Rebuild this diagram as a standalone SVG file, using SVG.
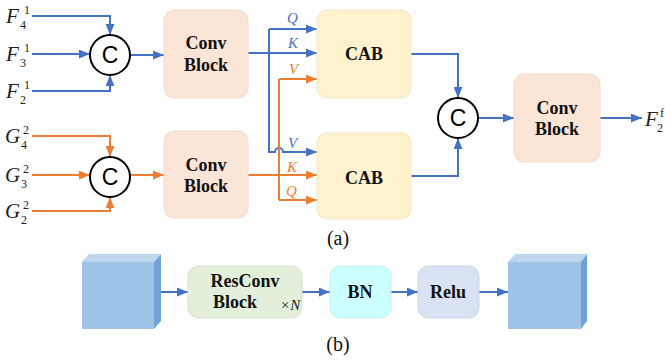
<svg xmlns="http://www.w3.org/2000/svg" width="665" height="360" viewBox="0 0 665 360">
<style>
.b{stroke:#4472C4;stroke-width:2;fill:none}
.o{stroke:#ED7D31;stroke-width:2;fill:none}
.ab{marker-end:url(#mb)}
.ao{marker-end:url(#mo)}
.conv{fill:#FBE5D6;stroke:#F2DCCB;stroke-width:1}
.cab{fill:#FFF2CC;stroke:#F0E6C6;stroke-width:1}
.cat{fill:#fff;stroke:#000;stroke-width:2}
.ct{font-family:"Liberation Sans",Arial,sans-serif;font-size:23px;text-anchor:middle}
.bt{font-family:"Liberation Serif","Times New Roman",serif;font-weight:bold;font-size:18px;text-anchor:middle;fill:#111}
.it{font-family:"Liberation Serif","Times New Roman",serif;font-style:italic;font-size:21px;fill:#222}
.sm{font-family:"Liberation Serif","Times New Roman",serif;font-size:12px;fill:#222}
.lb{font-family:"Liberation Serif","Times New Roman",serif;font-style:italic;font-size:15px}
.cap{font-family:"Liberation Serif","Times New Roman",serif;font-size:20px;text-anchor:middle;fill:#111}
</style>
<defs>
<marker id="mb" viewBox="0 0 10 8" refX="10" refY="4" markerWidth="11" markerHeight="9" markerUnits="userSpaceOnUse" orient="auto"><path d="M0,0 L10,4 L0,8 z" fill="#4472C4"/></marker>
<marker id="mo" viewBox="0 0 10 8" refX="10" refY="4" markerWidth="11" markerHeight="9" markerUnits="userSpaceOnUse" orient="auto"><path d="M0,0 L10,4 L0,8 z" fill="#ED7D31"/></marker>
</defs>

<g id="connectors">
<path class="b ab" d="M32,16 H110 V35"/>
<path class="b ab" d="M32,54 H90"/>
<path class="b ab" d="M32,91 H110 V75"/>
<path class="b ab" d="M130,55 H164"/>
<path class="o ao" d="M32,136 H110 V157"/>
<path class="o ao" d="M32,175 H90"/>
<path class="o ao" d="M32,211 H110 V197"/>
<path class="o ao" d="M130,175 H164"/>
<path class="b ab" d="M248,53 H317"/>
<path class="b ab" d="M269,29 H317"/>
<path class="b ab" d="M269,29 V152 H275 a4,4 0 0 1 8,0 H317"/>
<path class="o ao" d="M279,79 H317"/>
<path class="o" d="M279,79 V200"/>
<path class="o ao" d="M248,175 H317"/>
<path class="o ao" d="M279,200 H317"/>
<path class="b ab" d="M411,54 H458 V98"/>
<path class="b ab" d="M411,176 H458 V138"/>
<path class="b ab" d="M478,118 H514"/>
<path class="b ab" d="M600,118 H642"/>
<path class="b ab" d="M161,292 H188"/>
<path class="b ab" d="M302,292 H330"/>
<path class="b ab" d="M391,292 H418"/>
<path class="b ab" d="M479,292 H508"/>
</g>

<g id="labels-in">
<text class="it" x="6" y="23">F</text><text class="sm" x="24" y="14">1</text><text class="sm" x="20" y="29">4</text>
<text class="it" x="6" y="61">F</text><text class="sm" x="24" y="52">1</text><text class="sm" x="20" y="67">3</text>
<text class="it" x="6" y="98">F</text><text class="sm" x="24" y="89">1</text><text class="sm" x="20" y="104">2</text>
<text class="it" x="5" y="143">G</text><text class="sm" x="23" y="134">2</text><text class="sm" x="21" y="149">4</text>
<text class="it" x="5" y="182">G</text><text class="sm" x="23" y="173">2</text><text class="sm" x="21" y="188">3</text>
<text class="it" x="5" y="218">G</text><text class="sm" x="23" y="209">2</text><text class="sm" x="21" y="224">2</text>
</g>

<g id="cat1"><circle class="cat" cx="110" cy="55" r="20"/><text class="ct" x="110" y="63">C</text></g>
<g id="cat2"><circle class="cat" cx="110" cy="177" r="20"/><text class="ct" x="110" y="185">C</text></g>
<g id="cat3"><circle class="cat" cx="458" cy="118" r="20"/><text class="ct" x="458" y="126">C</text></g>

<g id="conv1"><rect class="conv" x="164" y="10" width="84" height="88" rx="10"/><text class="bt" x="206" y="49">Conv</text><text class="bt" x="206" y="71">Block</text></g>
<g id="conv2"><rect class="conv" x="164" y="131" width="84" height="87" rx="10"/><text class="bt" x="206" y="171">Conv</text><text class="bt" x="206" y="192">Block</text></g>
<g id="conv3"><rect class="conv" x="514" y="74" width="86" height="88" rx="10"/><text class="bt" x="557" y="114">Conv</text><text class="bt" x="557" y="135">Block</text></g>

<g id="cab1"><rect class="cab" x="317" y="10" width="94" height="88" rx="10"/><text class="bt" x="364" y="60">CAB</text></g>
<g id="cab2"><rect class="cab" x="317" y="133" width="94" height="86" rx="10"/><text class="bt" x="364" y="184">CAB</text></g>

<g id="qkv">
<text class="lb" x="287" y="23" fill="#4472C4">Q</text>
<text class="lb" x="288" y="48" fill="#4472C4">K</text>
<text class="lb" x="289" y="74" fill="#ED7D31">V</text>
<text class="lb" x="288" y="148" fill="#4472C4">V</text>
<text class="lb" x="287" y="172" fill="#ED7D31">K</text>
<text class="lb" x="286" y="196" fill="#ED7D31">Q</text>
</g>

<g id="out"><text class="it" x="645" y="126">F</text><text class="sm" x="660" y="117">f</text><text class="sm" x="657" y="132">2</text></g>

<text class="cap" x="338" y="245">(a)</text>

<g id="cube1">
<polygon points="82,262 89,254 161,254 154,262" fill="#BDD7EE"/>
<polygon points="154,262 161,254 161,321 154,329" fill="#6FA3D6"/>
<rect x="82" y="262" width="72" height="67" fill="#9DC3E6"/>
</g>
<g id="resconv"><rect x="188" y="266" width="114" height="52" rx="10" fill="#E2EFDA" stroke="#D5E3CD"/><text class="bt" x="245" y="287">ResConv</text><text class="bt" x="235" y="308">Block</text><text class="lb" x="280" y="310" fill="#222">×<tspan>N</tspan></text></g>
<g id="bn"><rect x="330" y="266" width="61" height="52" rx="10" fill="#CCFFFF" stroke="#BFEFEF"/><text class="bt" x="360" y="298">BN</text></g>
<g id="relu"><rect x="418" y="266" width="61" height="52" rx="10" fill="#DAE3F3" stroke="#CDD6E6"/><text class="bt" x="448" y="298">Relu</text></g>
<g id="cube2">
<polygon points="508,262 515,254 587,254 581,262" fill="#BDD7EE"/>
<polygon points="581,262 587,254 587,321 581,329" fill="#6FA3D6"/>
<rect x="508" y="262" width="73" height="67" fill="#9DC3E6"/>
</g>
<text class="cap" x="338" y="351">(b)</text>
</svg>
